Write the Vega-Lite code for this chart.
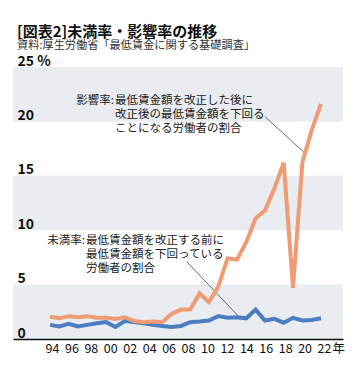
{
  "$schema": "https://vega.github.io/schema/vega-lite/v6.json",
  "width": 330,
  "height": 272,
  "autosize": {"type": "none"},
  "padding": {"left": 13, "top": 67, "right": 17, "bottom": 39},
  "background": "white",
  "config": {"view": {"stroke": null}, "font": "Noto Sans CJK JP", "axis": {"labelOverlap": false}},
  "title": {
    "text": "[図表2]未満率・影響率の推移",
    "subtitle": "資料:厚生労働省「最低賃金に関する基礎調査」",
    "anchor": "start",
    "frame": "group",
    "dx": 4,
    "offset": 3,
    "font": "Noto Sans CJK JP",
    "fontSize": 15,
    "fontWeight": "bold",
    "color": "#111",
    "subtitleFont": "Noto Sans CJK JP",
    "subtitleFontSize": 11.2,
    "subtitleColor": "#333",
    "subtitlePadding": 0
  },
  "datasets": {
    "bands": [
      {"rate": 0, "rate2": 5},
      {"rate": 10, "rate2": 15},
      {"rate": 20, "rate2": 25}
    ],
    "series": [
      {"year": 1994, "series": "未満率", "rate": 1.3},
      {"year": 1995, "series": "未満率", "rate": 1.15},
      {"year": 1996, "series": "未満率", "rate": 1.4},
      {"year": 1997, "series": "未満率", "rate": 1.15},
      {"year": 1998, "series": "未満率", "rate": 1.3},
      {"year": 1999, "series": "未満率", "rate": 1.45},
      {"year": 2000, "series": "未満率", "rate": 1.55},
      {"year": 2001, "series": "未満率", "rate": 1.1},
      {"year": 2002, "series": "未満率", "rate": 1.65},
      {"year": 2003, "series": "未満率", "rate": 1.55},
      {"year": 2004, "series": "未満率", "rate": 1.45},
      {"year": 2005, "series": "未満率", "rate": 1.3},
      {"year": 2006, "series": "未満率", "rate": 1.2},
      {"year": 2007, "series": "未満率", "rate": 1.1},
      {"year": 2008, "series": "未満率", "rate": 1.2},
      {"year": 2009, "series": "未満率", "rate": 1.55},
      {"year": 2010, "series": "未満率", "rate": 1.6},
      {"year": 2011, "series": "未満率", "rate": 1.7},
      {"year": 2012, "series": "未満率", "rate": 2.1},
      {"year": 2013, "series": "未満率", "rate": 1.95},
      {"year": 2014, "series": "未満率", "rate": 2.0},
      {"year": 2015, "series": "未満率", "rate": 1.9},
      {"year": 2016, "series": "未満率", "rate": 2.7},
      {"year": 2017, "series": "未満率", "rate": 1.7},
      {"year": 2018, "series": "未満率", "rate": 1.85},
      {"year": 2019, "series": "未満率", "rate": 1.5},
      {"year": 2020, "series": "未満率", "rate": 1.95},
      {"year": 2021, "series": "未満率", "rate": 1.7},
      {"year": 2022, "series": "未満率", "rate": 1.75},
      {"year": 2023, "series": "未満率", "rate": 1.9},
      {"year": 1994, "series": "影響率", "rate": 2.05},
      {"year": 1995, "series": "影響率", "rate": 1.9},
      {"year": 1996, "series": "影響率", "rate": 2.1},
      {"year": 1997, "series": "影響率", "rate": 2.0},
      {"year": 1998, "series": "影響率", "rate": 2.1},
      {"year": 1999, "series": "影響率", "rate": 1.95},
      {"year": 2000, "series": "影響率", "rate": 1.95},
      {"year": 2001, "series": "影響率", "rate": 1.85},
      {"year": 2002, "series": "影響率", "rate": 2.0},
      {"year": 2003, "series": "影響率", "rate": 1.65},
      {"year": 2004, "series": "影響率", "rate": 1.55},
      {"year": 2005, "series": "影響率", "rate": 1.6},
      {"year": 2006, "series": "影響率", "rate": 1.55},
      {"year": 2007, "series": "影響率", "rate": 2.3},
      {"year": 2008, "series": "影響率", "rate": 2.7},
      {"year": 2009, "series": "影響率", "rate": 2.7},
      {"year": 2010, "series": "影響率", "rate": 4.2},
      {"year": 2011, "series": "影響率", "rate": 3.4},
      {"year": 2012, "series": "影響率", "rate": 4.8},
      {"year": 2013, "series": "影響率", "rate": 7.4},
      {"year": 2014, "series": "影響率", "rate": 7.3},
      {"year": 2015, "series": "影響率", "rate": 8.9},
      {"year": 2016, "series": "影響率", "rate": 11.1},
      {"year": 2017, "series": "影響率", "rate": 11.8},
      {"year": 2018, "series": "影響率", "rate": 13.8},
      {"year": 2019, "series": "影響率", "rate": 16.2},
      {"year": 2020, "series": "影響率", "rate": 4.7},
      {"year": 2021, "series": "影響率", "rate": 16.2},
      {"year": 2022, "series": "影響率", "rate": 19.2},
      {"year": 2023, "series": "影響率", "rate": 21.6}
    ],
    "leaders": [
      {"year": 2017.01, "rate": 20.43, "year2": 2021.29, "rate2": 17.07},
      {"year": 2008.63, "rate": 7.1, "year2": 2014.22, "rate2": 2.05}
    ],
    "notes": [
      {"year": 2000.955, "rate": 22.43, "head": "影響率:", "body": "最低賃金額を改正した後に\n改正後の最低賃金額を下回る\nことになる労働者の割合"},
      {"year": 1997.85, "rate": 9.56, "head": "未満率:", "body": "最低賃金額を改正する前に\n最低賃金額を下回っている\n労働者の割合"}
    ]
  },
  "layer": [
    {
      "data": {"name": "bands"},
      "mark": {"type": "rect", "color": "#e9ecf0"},
      "encoding": {
        "y": {"field": "rate", "type": "quantitative", "scale": {"domain": [0, 25], "nice": false}},
        "y2": {"field": "rate2"}
      }
    },
    {
      "data": {"name": "leaders"},
      "mark": {"type": "rule", "color": "#444", "strokeWidth": 0.8},
      "encoding": {
        "x": {"field": "year", "type": "quantitative"},
        "x2": {"field": "year2"},
        "y": {"field": "rate", "type": "quantitative"},
        "y2": {"field": "rate2"}
      }
    },
    {
      "data": {"name": "series"},
      "mark": {"type": "line", "strokeWidth": 4},
      "encoding": {
        "x": {
          "field": "year",
          "type": "quantitative",
          "scale": {"domain": [1990.04, 2025.35], "nice": false, "zero": false},
          "axis": {
            "orient": "bottom",
            "values": [1994.213, 1996.292, 1998.371, 2000.451, 2002.53, 2004.609, 2006.688, 2008.767, 2010.847, 2012.926, 2015.005, 2017.084, 2019.163, 2021.242, 2023.322],
            "tickCount": 40,
            "labelExpr": "format((94 + 2*round((datum.value - 1994.213)/2.0792)) % 100, '02d')",
            "labelFlush": false,
            "labelOverlap": false,
            "ticks": false,
            "tickSize": 0,
            "grid": false,
            "domain": true,
            "domainColor": "#111",
            "domainWidth": 1.6,
            "labelPadding": 3,
            "labelFont": "Noto Sans CJK JP",
            "labelFontSize": 12.5,
            "labelColor": "#111",
            "title": "年",
            "titleX": 319,
            "titleY": 3,
            "titleAlign": "left",
            "titleBaseline": "top",
            "titleAngle": 0,
            "titleFont": "Noto Sans CJK JP",
            "titleFontSize": 12.5,
            "titleFontWeight": "normal",
            "titleColor": "#111",
            "zindex": 1
          }
        },
        "y": {
          "field": "rate",
          "type": "quantitative",
          "scale": {"domain": [0, 25], "nice": false},
          "axis": {
            "orient": "left",
            "values": [0, 5, 10, 15, 20, 25],
            "tickCount": 10,
            "labelExpr": "datum.value == 25 ? '25 %' : datum.label",
            "labelAlign": "left",
            "labelBaseline": "alphabetic",
            "labelPadding": -4,
            "labelOffset": -2,
            "ticks": false,
            "tickSize": 0,
            "domain": false,
            "grid": false,
            "labelOverlap": false,
            "labelFlush": false,
            "labelFont": "Noto Sans CJK JP",
            "labelFontSize": 14,
            "labelFontWeight": "bold",
            "labelColor": "#111",
            "title": null,
            "zindex": 1
          }
        },
        "color": {
          "field": "series",
          "type": "nominal",
          "scale": {"domain": ["未満率", "影響率"], "range": ["#4c7dc0", "#ef9b74"]},
          "legend": null
        }
      }
    },
    {
      "data": {"name": "notes"},
      "mark": {"type": "text", "align": "right", "baseline": "top", "dx": -1, "fontSize": 11.5, "color": "#222", "font": "Noto Sans CJK JP"},
      "encoding": {
        "x": {"field": "year", "type": "quantitative"},
        "y": {"field": "rate", "type": "quantitative"},
        "text": {"field": "head", "type": "nominal"}
      }
    },
    {
      "data": {"name": "notes"},
      "mark": {"type": "text", "align": "left", "baseline": "top", "fontSize": 11.5, "lineHeight": 14, "lineBreak": "\n", "color": "#222", "font": "Noto Sans CJK JP"},
      "encoding": {
        "x": {"field": "year", "type": "quantitative"},
        "y": {"field": "rate", "type": "quantitative"},
        "text": {"field": "body", "type": "nominal"}
      }
    }
  ]
}
